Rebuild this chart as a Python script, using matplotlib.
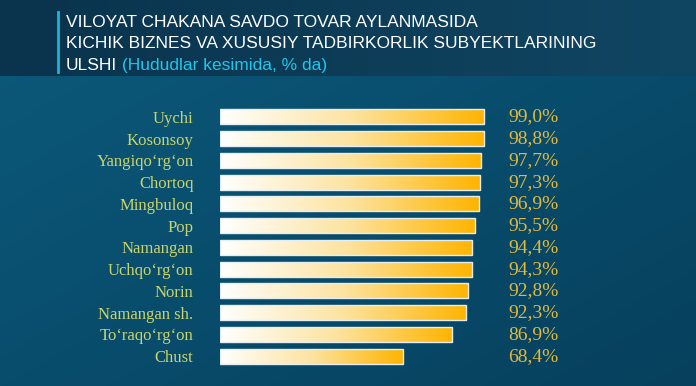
import numpy as np
import matplotlib
matplotlib.use("Agg")
import matplotlib.pyplot as plt
from matplotlib.colors import LinearSegmentedColormap

# data
regions = ["Uychi", "Kosonsoy", "Yangiqo\u2018rg\u2018on", "Chortoq", "Mingbuloq", "Pop",
           "Namangan", "Uchqo\u2018rg\u2018on", "Norin", "Namangan sh.",
           "To\u2018raqo\u2018rg\u2018on", "Chust"]
shares = [99.0, 98.8, 97.7, 97.3, 96.9, 95.5, 94.4, 94.3, 92.8, 92.3, 86.9, 68.4]
value_labels = ["99,0%", "98,8%", "97,7%", "97,3%", "96,9%", "95,5%",
                "94,4%", "94,3%", "92,8%", "92,3%", "86,9%", "68,4%"]

title_lines = ["VILOYAT CHAKANA SAVDO TOVAR AYLANMASIDA",
               "KICHIK BIZNES VA XUSUSIY TADBIRKORLIK SUBYEKTLARINING",
               "ULSHI"]
title_note = " (Hududlar kesimida, % da)"

W, H = 696, 386
fig = plt.figure(figsize=(W / 100, H / 100), dpi=100)

# background: dark header band + blue lower panel
bg = fig.add_axes([0, 0, 1, 1])
bg.set_axis_off()
yy, xx = np.mgrid[0:H, 0:W]
fx = xx / W
fy = yy / H
top = np.array([0x0c, 0x5a, 0x7c]) / 255
bot = np.array([0x06, 0x40, 0x5d]) / 255
t = np.clip(0.5 * fx + 0.5 * fy, 0, 1)[..., None]
img = top * (1 - t) + bot * t
head = fy < 76 / H
hl = np.array([0x0a, 0x33, 0x4d]) / 255
hr = np.array([0x10, 0x46, 0x62]) / 255
hmix = (hl * (1 - fx[..., None]) + hr * fx[..., None])
img = np.where(head[..., None], hmix, img)
bg.imshow(img, extent=[0, 1, 0, 1], aspect="auto", zorder=0)
bg.set_xlim(0, 1)
bg.set_ylim(0, 1)

# title
bg.plot([58 / W, 58 / W], [1 - 12 / H, 1 - 72 / H], color="#19b4dc", lw=2)
tfont = dict(family="Liberation Sans", fontsize=12.5, color="white", va="baseline")
for i, line in enumerate(title_lines):
    txt = fig.text(66 / W, 1 - (27 + 21.5 * i) / H, line, **tfont)
bg.annotate(title_note, xy=(1, 0), xycoords=txt, va="bottom", ha="left",
            family="Liberation Sans", fontsize=12.5, color="#21c6ea")

# bars
ax = fig.add_axes([220 / W, (H - 367) / H, 267 / W, 261 / H])
ax.set_facecolor("none")
ax.set_xlim(0, 100)
ax.set_ylim(len(regions) - 0.5, -0.5)
ypos = np.arange(len(regions))
bars = ax.barh(ypos, shares, height=0.69, color="none",
               edgecolor="#e4eef2", linewidth=1.0, zorder=3)

cmap = LinearSegmentedColormap.from_list("g", ["#ffffff", "#fde3a0", "#ffb400"])
grad = np.linspace(0, 1, 256)[None, :]
for b in bars:
    x0, y0 = b.get_x(), b.get_y()
    im = ax.imshow(grad, cmap=cmap, aspect="auto", zorder=2,
                   extent=[x0, x0 + b.get_width(), y0 + b.get_height(), y0])
    im.set_clip_path(b)

ax.set_xlim(0, 100)
ax.set_ylim(len(regions) - 0.5, -0.5)
ax.set_yticks(ypos)
ax.set_yticklabels(regions, family="Liberation Serif", fontsize=12, color="#c9d46c")
ax.tick_params(axis="y", length=0, pad=19)
ax.set_xticks([])
for s in ax.spines.values():
    s.set_visible(False)

for y, lab in zip(ypos, value_labels):
    ax.text(107.9, y, lab, ha="left", va="center", family="Liberation Serif",
            fontsize=14, color="#e2b93c")

fig.savefig("out.png", dpi=100)
